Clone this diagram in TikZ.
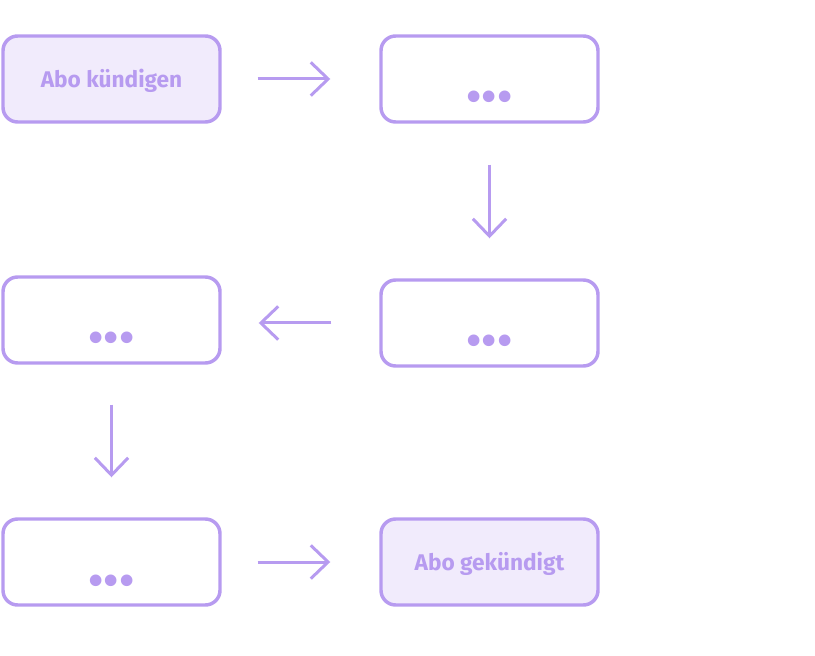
\documentclass[tikz,border=0pt]{standalone}
\usepackage{fontspec}
\setmainfont{Fira Sans}
\usetikzlibrary{arrows.meta}

\definecolor{lilac}{HTML}{B79BF0}
\definecolor{lilacfill}{HTML}{F1EBFC}

\newcommand{\boxwidth}{162.75pt}
\newcommand{\boxheight}{64.5pt}
\newcommand{\dotsfont}{\fontsize{48}{48}\selectfont}

\tikzset{
    stepbox/.style={draw=lilac, line width=2.6pt, rounded corners=11pt,
        minimum width=\boxwidth, minimum height=\boxheight, inner sep=0pt,
        text=lilac, font=\bfseries\fontsize{17}{20}\selectfont,
        text height=12.4pt, text depth=0pt},
    endbox/.style={stepbox, fill=lilacfill},
    dotsbox/.style={stepbox, font=\bfseries\dotsfont, text height=34.5pt},
    flow/.style={lilac, line width=2.25pt,
        -{Straight Barb[length=13pt,width=25pt]}}
}

\begin{document}
\begin{tikzpicture}[x=0.75pt,y=-0.75pt]

\useasboundingbox (0,0) rectangle (815,656);

% step coordinates, in pixels of the screenshot
\coordinate (c1) at (111.5, 79);
\coordinate (c2) at (489.5, 79);
\coordinate (c3) at (489.5, 323);
\coordinate (c4) at (111.5, 320);
\coordinate (c5) at (111.5, 562);
\coordinate (c6) at (489.5, 562);

\node[endbox] (start) at (c1) {Abo kündigen};
\node[dotsbox] (s2) at (c2) {...};
\node[dotsbox] (s3) at (c3) {...};
\node[dotsbox] (s4) at (c4) {...};
\node[dotsbox] (s5) at (c5) {...};
\node[endbox] (done) at (c6) {Abo gekündigt};

% arrows sit in the gaps, not on the box edges
\foreach \from/\to/\pre/\post in {start.east/s2.west/27pt/36.75pt,
        s2.south/s3.north/30.75pt/30pt,
        s3.west/{s3.west -| s4.east}/36pt/27.75pt,
        s4.south/s5.north/30pt/30pt,
        s5.east/done.west/27pt/36.75pt}
    \draw[flow, shorten <=\pre, shorten >=\post] (\from) -- (\to);

\end{tikzpicture}
\end{document}
